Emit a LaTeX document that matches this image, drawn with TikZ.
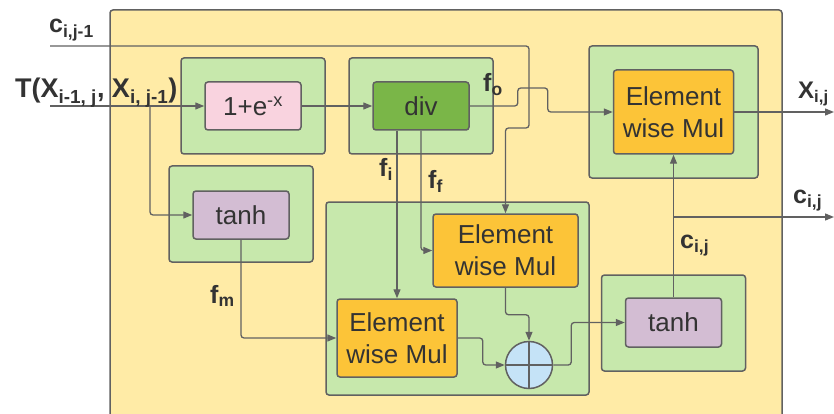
\documentclass[tikz,border=0pt]{standalone}
\usepackage{fontspec}
\setmainfont{Liberation Sans}
\usetikzlibrary{arrows.meta}
\definecolor{cellbg}{HTML}{FFEBA6}
\definecolor{leaf}{HTML}{C7E8AC}
\definecolor{edge}{HTML}{616161}
\definecolor{ink}{HTML}{333333}
\definecolor{pinkop}{HTML}{F9D3DF}
\definecolor{divop}{HTML}{7AB648}
\definecolor{mulop}{HTML}{FCC438}
\definecolor{tanhop}{HTML}{D3BDD3}
\definecolor{addop}{HTML}{C5E3F7}
\begin{document}
\begin{tikzpicture}[x=1pt,y=-1pt,
  line/.style={draw=edge, line width=1.3pt},
  flow/.style={line, -{Triangle[length=9pt,width=7pt]}, rounded corners=3pt},
  panel/.style={draw=edge, line width=1.5pt, fill=leaf, rounded corners=3pt, inner sep=0pt},
  op/.style={draw=edge, line width=1.5pt, rounded corners=3pt, inner sep=0pt, align=center, text=ink,
    font=\fontsize{26}{32}\selectfont},
  sym/.style={text=ink, font=\bfseries\fontsize{25}{28}\selectfont, inner sep=0pt, anchor=base west}]
	\useasboundingbox (0,0) rectangle (834,414);
	\draw[fill=cellbg, draw=edge, line width=1.5pt, rounded corners=3pt] (110,10) rectangle (782,440);

	\node[panel, minimum width=144pt, minimum height=96pt] (pSig) at (253,106) {};
	\node[panel, minimum width=144pt, minimum height=96pt] (pDiv) at (421,106) {};
	\node[panel, minimum width=169pt, minimum height=132pt] (pOut) at (673.5,112) {};
	\node[panel, minimum width=144pt, minimum height=96pt] (pTanhA) at (241,214) {};
	\node[panel, minimum width=263pt, minimum height=193pt] (pMul) at (457.5,298.5) {};
	\node[panel, minimum width=144pt, minimum height=96pt] (pTanhB) at (673.5,323) {};

	\node[op, fill=pinkop, minimum width=96pt, minimum height=48pt] (sig) at (253,106) {1+e\textsuperscript{-x}};
	\node[op, fill=divop, minimum width=96pt, minimum height=48pt] (div) at (421,106) {div};
	\node[op, fill=mulop, minimum width=120pt, minimum height=84pt] (mulOut) at (673.5,112) {Element\\wise Mul};
	\node[op, fill=tanhop, minimum width=96pt, minimum height=48pt] (tanhA) at (241,215) {tanh};
	\node[op, fill=mulop, minimum width=145pt, minimum height=73pt] (mulF) at (505.5,250.5) {Element\\wise Mul};
	\node[op, fill=mulop, minimum width=120pt, minimum height=78pt] (mulI) at (397,338) {Element\\wise Mul};
	\node[op, fill=tanhop, minimum width=96pt, minimum height=49pt] (tanhB) at (673.5,322.5) {tanh};
	\node[op, circle, fill=addop, minimum size=47pt] (add) at (529,365) {};
	\draw[line] (add.north) -- (add.south) (add.west) -- (add.east);

	\coordinate (inT) at (50,106);
	\coordinate (brT) at (150,106);
	\coordinate (cIn) at (50,46);
	\coordinate (cTurn) at (529,128);
	\coordinate (xOut) at (834,112);
	\coordinate (cOut) at (834,217);

	\draw[flow] (inT) -- (sig);
	\draw[flow] (brT) |- (tanhA.west);
	\draw[flow] (sig) -- (div);
	\draw[flow] (cIn) -| (cTurn) -| (mulF.north);
	\draw[flow] (div.east) -- ++(48,0) |- ++(30,-18) |- (mulOut.west);
	\draw[flow] (div.south -| mulI.north) -- (mulI.north);
	\draw[flow] (div.south) |- (mulF.west);
	\draw[flow] (tanhA.south) |- (mulI.west);
	\draw[flow] (mulF.south) -- ++(0,27) -| (add.north);
	\draw[flow] (mulI.east) -- ++(25,0) |- (add.west);
	\draw[flow] (add.east) -- ++(18,0) |- (tanhB.west);
	\draw[flow] (tanhB.north) -- (mulOut.south);
	\draw[flow] (tanhB.north |- cOut) -- (cOut);
	\draw[flow] (mulOut.east) -- (xOut);

	\node[sym] (lblC) at (49,33) {c\textsubscript{i,j-1}};
	\node[sym, font=\bfseries\fontsize{27}{30}\selectfont] (lblT) at (15,98) {T(X\textsubscript{i-1, j}, X\textsubscript{i, j-1})};
	\node[sym] (lblO) at (483,92) {f\textsubscript{o}};
	\node[sym] (lblI) at (379,176) {f\textsubscript{i}};
	\node[sym] (lblF) at (428,188) {f\textsubscript{f}};
	\node[sym] (lblM) at (210,303) {f\textsubscript{m}};
	\node[sym, font=\bfseries\fontsize{24}{28}\selectfont] (lblX) at (798,99) {X\textsubscript{i,j}};
	\node[sym] (lblCo) at (793,203) {c\textsubscript{i,j}};
	\node[sym] (lblCm) at (680,248) {c\textsubscript{i,j}};
\end{tikzpicture}
\end{document}
